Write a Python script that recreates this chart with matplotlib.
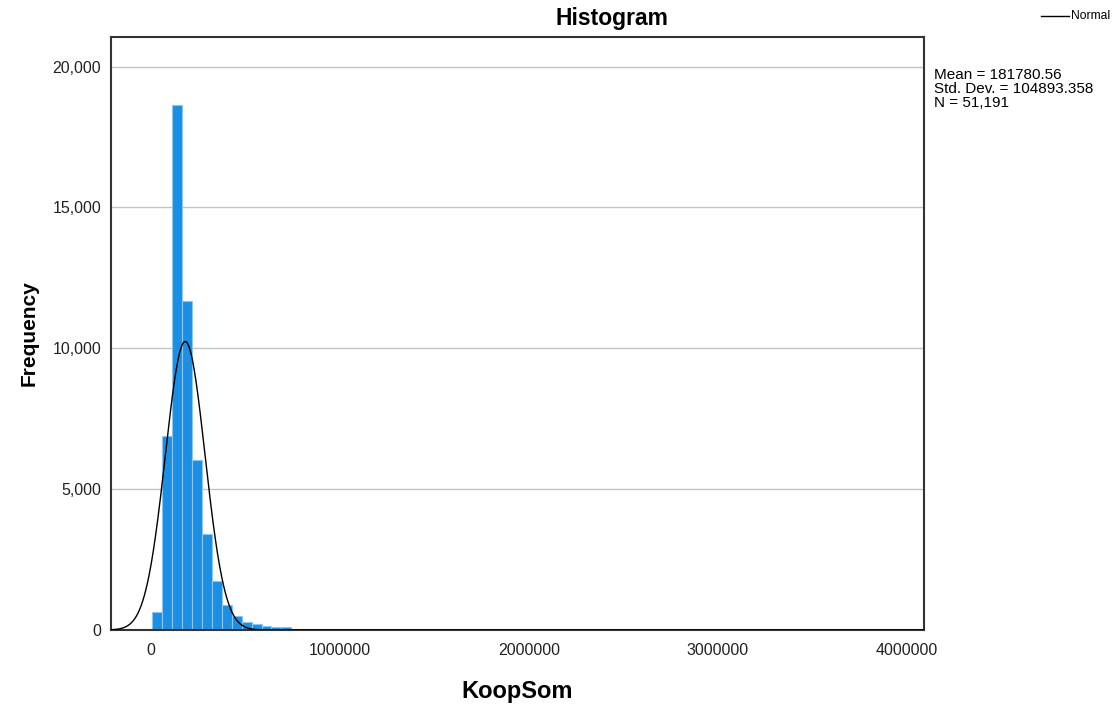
import numpy as np
import matplotlib.pyplot as plt
from matplotlib.lines import Line2D
from matplotlib.ticker import FuncFormatter

plt.rcParams['font.family'] = ['Liberation Sans', 'DejaVu Sans']

# histogram bins
bin_start = 7000
bin_width = 52600
counts = [630, 6900, 18650, 11680, 6030, 3410, 1740, 880, 500, 300, 210, 150, 120, 100]

# summary stats shown on chart
mean = 181780.56
std = 104893.358
n = 51191

xticks = [0, 1000000, 2000000, 3000000, 4000000]
yticks = [0, 5000, 10000, 15000, 20000]

fig = plt.figure(figsize=(11.14, 7.11), dpi=100)
ax = fig.add_axes([0.0996, 0.1139, 0.7299, 0.8345])

lefts = bin_start + bin_width * np.arange(len(counts))
ax.bar(lefts, counts, width=bin_width, align='edge', color='#1a8fe3',
       edgecolor='#8cc6f0', linewidth=0.8, zorder=2)

xs = np.linspace(-211000, 4090000, 2000)
pdf = n * bin_width / (std * np.sqrt(2 * np.pi)) * np.exp(-0.5 * ((xs - mean) / std) ** 2)
ax.plot(xs, pdf, color='black', linewidth=1.0, zorder=3)

ax.set_xlim(-211000, 4090000)
ax.set_ylim(0, 21060)
ax.set_xticks(xticks)
ax.set_xticklabels([str(t) for t in xticks])
ax.set_yticks(yticks)
ax.yaxis.set_major_formatter(FuncFormatter(lambda v, p: f"{int(v):,}"))
ax.tick_params(length=0, labelsize=11.5, colors='#222222')
ax.tick_params(axis='y', pad=7)
ax.tick_params(axis='x', pad=9)
ax.grid(axis='y', color='#c4c4c4', linewidth=1.0, zorder=1)
ax.set_axisbelow(True)
for s in ax.spines.values():
    s.set_color('#333333')
    s.set_linewidth(1.5)

fig.text(612 / 1114, 1 - 18 / 711, 'Histogram', fontsize=16.5, fontweight='bold',
         ha='center', va='center')
ax.set_ylabel('Frequency', fontsize=15, fontweight='bold', labelpad=10)
ax.set_xlabel('KoopSom', fontsize=17, fontweight='bold', labelpad=16)

stats = [f"Mean = {mean:.2f}", f"Std. Dev. = {std:.3f}", f"N = {n:,}"]
for i, line in enumerate(stats):
    fig.text(934 / 1114, 1 - (75 + 14 * i) / 711, line, fontsize=11,
             va='center', ha='left')

fig.add_artist(Line2D([1041 / 1114, 1069 / 1114], [1 - 16 / 711, 1 - 16 / 711],
                      color='black', linewidth=1.0))
fig.text(1071 / 1114, 1 - 16 / 711, 'Normal', fontsize=8.7, va='center', ha='left')

fig.savefig('out.png', dpi=100)
